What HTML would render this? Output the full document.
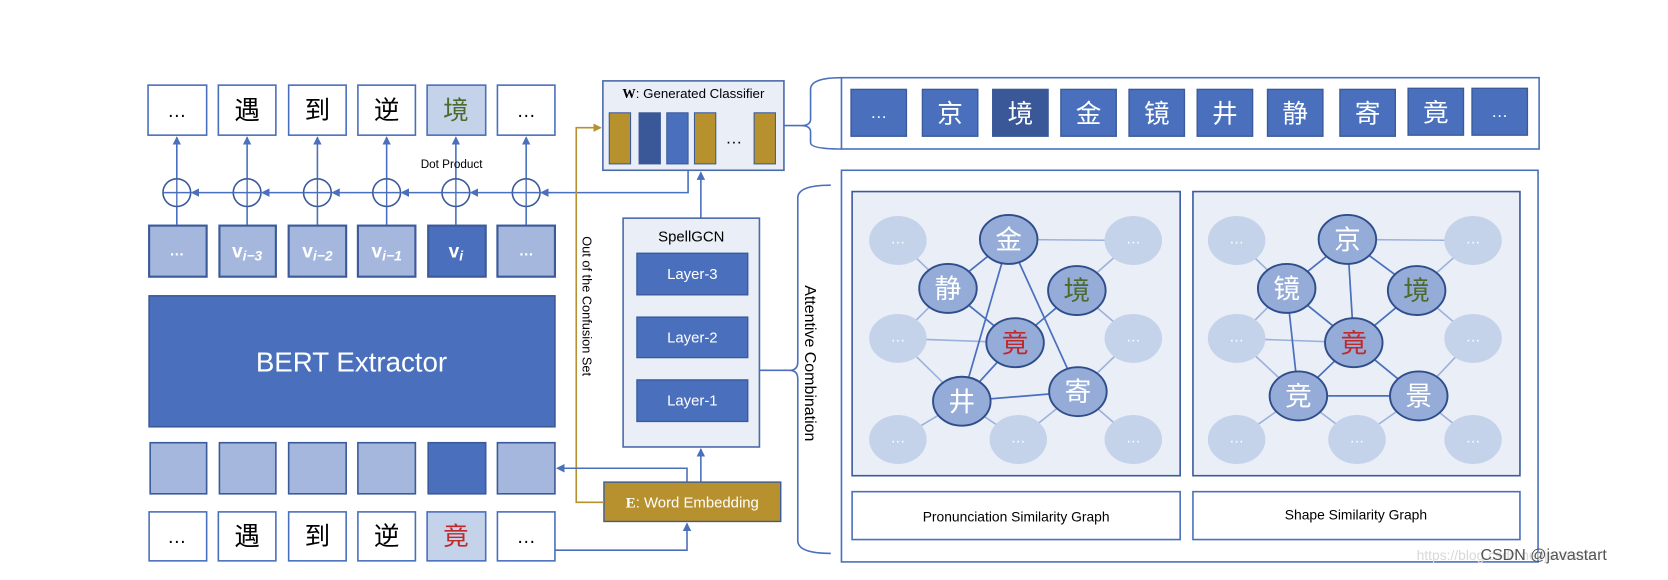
<!DOCTYPE html>
<html><head><meta charset="utf-8"><style>
html,body{margin:0;padding:0;background:#fff;}
svg{display:block;}
text{font-family:"Liberation Sans","Noto Sans CJK SC",sans-serif;}
.cj{font-family:"Liberation Sans","Noto Sans CJK SC",sans-serif;}
</style></head><body>
<svg width="1668" height="580" viewBox="0 0 1566 545" preserveAspectRatio="none" xmlns="http://www.w3.org/2000/svg">
<defs>
<marker id="a" markerWidth="8" markerHeight="8" refX="7" refY="4" orient="auto" markerUnits="userSpaceOnUse"><path d="M0,0 L8,4 L0,8 z" fill="#4a70bd"/></marker>
<marker id="g" markerWidth="8" markerHeight="8" refX="7" refY="4" orient="auto" markerUnits="userSpaceOnUse"><path d="M0,0 L8,4 L0,8 z" fill="#b8912f"/></marker>
</defs>
<rect width="1566" height="545" fill="#fff"/>

<g stroke="#4a70bd" stroke-width="1.5">
<rect x="139" y="80" width="55" height="47" fill="#fff"/>
<rect x="205" y="80" width="54" height="47" fill="#fff"/>
<rect x="271" y="80" width="54" height="47" fill="#fff"/>
<rect x="336" y="80" width="54" height="47" fill="#fff"/>
<rect x="401" y="80" width="55" height="47" fill="#c5d3ea"/>
<rect x="467" y="80" width="54" height="47" fill="#fff"/>
</g>
<g font-size="24" text-anchor="middle" class="cj">
<text x="166" y="110" font-size="18">…</text>
<text x="232" y="112">遇</text>
<text x="298" y="112">到</text>
<text x="363" y="112">逆</text>
<text x="428" y="112" fill="#4b6a2c">境</text>
<text x="494" y="110" font-size="18">…</text>
</g>

<g stroke="#4a70bd" stroke-width="1.5" fill="none">
<line x1="166" y1="211" x2="166" y2="129" marker-end="url(#a)"/>
<line x1="232" y1="211" x2="232" y2="129" marker-end="url(#a)"/>
<line x1="298" y1="211" x2="298" y2="129" marker-end="url(#a)"/>
<line x1="363" y1="211" x2="363" y2="129" marker-end="url(#a)"/>
<line x1="428" y1="211" x2="428" y2="129" marker-end="url(#a)"/>
<line x1="494" y1="211" x2="494" y2="129" marker-end="url(#a)"/>
<polyline points="646,160 646,181 520,181" />
<line x1="520" y1="181" x2="508" y2="181" marker-end="url(#a)"/>
<line x1="481" y1="181" x2="442" y2="181" marker-end="url(#a)"/>
<line x1="415" y1="181" x2="377" y2="181" marker-end="url(#a)"/>
<line x1="350" y1="181" x2="312" y2="181" marker-end="url(#a)"/>
<line x1="285" y1="181" x2="246" y2="181" marker-end="url(#a)"/>
<line x1="219" y1="181" x2="180" y2="181" marker-end="url(#a)"/>
</g>
<g stroke="#3a5a9a" stroke-width="1.5" fill="#fff">
<circle cx="166" cy="181" r="13"/><circle cx="232" cy="181" r="13"/><circle cx="298" cy="181" r="13"/>
<circle cx="363" cy="181" r="13"/><circle cx="428" cy="181" r="13"/><circle cx="494" cy="181" r="13"/>
</g>
<g stroke="#4a70bd" stroke-width="1.3">
<line x1="166" y1="168" x2="166" y2="194"/><line x1="153" y1="181" x2="179" y2="181"/>
<line x1="232" y1="168" x2="232" y2="194"/><line x1="219" y1="181" x2="245" y2="181"/>
<line x1="298" y1="168" x2="298" y2="194"/><line x1="285" y1="181" x2="311" y2="181"/>
<line x1="363" y1="168" x2="363" y2="194"/><line x1="350" y1="181" x2="376" y2="181"/>
<line x1="428" y1="168" x2="428" y2="194"/><line x1="415" y1="181" x2="441" y2="181"/>
<line x1="494" y1="168" x2="494" y2="194"/><line x1="481" y1="181" x2="507" y2="181"/>
</g>
<text x="424" y="158" font-size="11" text-anchor="middle">Dot Product</text>

<g stroke="#3a5a9a" stroke-width="2">
<rect x="140" y="212" width="54" height="48" fill="#a5b7dd"/>
<rect x="206" y="212" width="53" height="48" fill="#a5b7dd"/>
<rect x="271" y="212" width="54" height="48" fill="#a5b7dd"/>
<rect x="336" y="212" width="54" height="48" fill="#a5b7dd"/>
<rect x="402" y="212" width="54" height="48" fill="#4a70bd"/>
<rect x="467" y="212" width="54" height="48" fill="#a5b7dd"/>
</g>
<g fill="#fff" font-size="18" font-weight="bold" text-anchor="middle" font-family="Liberation Serif, serif">
<text x="166" y="240" font-size="14">…</text>
<text x="232" y="242" font-family="Liberation Serif, serif">v<tspan font-size="13" font-style="italic" dy="3">i−3</tspan></text>
<text x="298" y="242" font-family="Liberation Serif, serif">v<tspan font-size="13" font-style="italic" dy="3">i−2</tspan></text>
<text x="363" y="242" font-family="Liberation Serif, serif">v<tspan font-size="13" font-style="italic" dy="3">i−1</tspan></text>
<text x="428" y="242" font-family="Liberation Serif, serif">v<tspan font-size="13" font-style="italic" dy="3">i</tspan></text>
<text x="494" y="240" font-size="14">…</text>
</g>

<rect x="140" y="278" width="381" height="123" fill="#4a70bd" stroke="#3a5a9a" stroke-width="1.5"/>
<text x="330" y="349" fill="#fff" font-size="26" text-anchor="middle">BERT Extractor</text>

<g stroke="#3a5a9a" stroke-width="1.5">
<rect x="141" y="416" width="53" height="48" fill="#a5b7dd"/>
<rect x="206" y="416" width="53" height="48" fill="#a5b7dd"/>
<rect x="271" y="416" width="54" height="48" fill="#a5b7dd"/>
<rect x="336" y="416" width="54" height="48" fill="#a5b7dd"/>
<rect x="402" y="416" width="54" height="48" fill="#4a70bd"/>
<rect x="467" y="416" width="54" height="48" fill="#a5b7dd"/>
</g>

<g stroke="#4a70bd" stroke-width="1.5">
<rect x="140" y="481" width="54" height="46" fill="#fff"/>
<rect x="205" y="481" width="54" height="46" fill="#fff"/>
<rect x="271" y="481" width="54" height="46" fill="#fff"/>
<rect x="336" y="481" width="54" height="46" fill="#fff"/>
<rect x="401" y="481" width="55" height="46" fill="#c5d3ea"/>
<rect x="467" y="481" width="54" height="46" fill="#fff"/>
</g>
<g font-size="24" text-anchor="middle" class="cj">
<text x="166" y="510" font-size="18">…</text>
<text x="232" y="512">遇</text>
<text x="298" y="512">到</text>
<text x="363" y="512">逆</text>
<text x="428" y="512" fill="#c0282a">竟</text>
<text x="494" y="510" font-size="18">…</text>
</g>

<rect x="566" y="76" width="170" height="84" fill="#e9eef7" stroke="#4a6aa8" stroke-width="1.5"/>
<text x="651" y="92" font-size="12.5" text-anchor="middle"><tspan font-weight="bold" font-family="Liberation Serif, serif">W</tspan>: Generated Classifier</text>
<rect x="572" y="106" width="20" height="48" fill="#b8912f" stroke="#3a5a9a"/>
<rect x="600" y="106" width="20" height="48" fill="#3a5898" stroke="#3a5a9a"/>
<rect x="626" y="106" width="20" height="48" fill="#4a70bd" stroke="#3a5a9a"/>
<rect x="652" y="106" width="20" height="48" fill="#b8912f" stroke="#3a5a9a"/>
<text x="689" y="135" font-size="16" text-anchor="middle">…</text>
<rect x="708" y="106" width="20" height="48" fill="#b8912f" stroke="#3a5a9a"/>

<rect x="585" y="205" width="128" height="215" fill="#e9eef7" stroke="#4a6aa8" stroke-width="1.5"/>
<text x="649" y="227" font-size="14" text-anchor="middle">SpellGCN</text>
<g fill="#4a70bd" stroke="#3a5a9a" stroke-width="1.3">
<rect x="598" y="238" width="104" height="39"/>
<rect x="598" y="298" width="104" height="38"/>
<rect x="598" y="357" width="104" height="39"/>
</g>
<g fill="#fff" font-size="14" text-anchor="middle">
<text x="650" y="262">Layer-3</text><text x="650" y="322">Layer-2</text><text x="650" y="381">Layer-1</text>
</g>
<line x1="658" y1="205" x2="658" y2="162" stroke="#4a70bd" stroke-width="1.5" marker-end="url(#a)"/>

<rect x="567" y="453" width="166" height="37" fill="#b8912f" stroke="#3a5a9a" stroke-width="1.3"/>
<text x="650" y="477" fill="#fff" font-size="14" text-anchor="middle"><tspan font-weight="bold" font-family="Liberation Serif, serif">E</tspan>: Word Embedding</text>
<polyline points="567,472 541,472 541,120 564,120" fill="none" stroke="#b8912f" stroke-width="1.5" marker-end="url(#g)"/>
<text transform="translate(547,222) rotate(90)" font-size="12">Out of the Confusion Set</text>
<g stroke="#4a70bd" stroke-width="1.5" fill="none">
<polyline points="645,453 645,440 523,440" marker-end="url(#a)"/>
<line x1="658" y1="453" x2="658" y2="422" marker-end="url(#a)"/>
<polyline points="521,517 645,517 645,492" marker-end="url(#a)"/>
<line x1="713" y1="348" x2="742" y2="348"/>
<path d="M780,174 Q749,174 749,186 L749,340 Q749,348 741,348 Q749,348 749,356 L749,508 Q749,520 780,520"/>
<line x1="736" y1="118" x2="752" y2="118"/>
<path d="M790,73 Q761,73 761,84 L761,112 Q761,118 752,118 Q761,118 761,124 L761,134 Q761,140 790,140"/>
</g>
<text transform="translate(756,268) rotate(90)" font-size="15">Attentive Combination</text>

<rect x="790" y="73" width="655" height="67" fill="#fff" stroke="#4a70bd" stroke-width="1.5"/>
<g stroke="#3a5a9a" stroke-width="1.3" fill="#4a70bd">
<rect x="799" y="84" width="52" height="44"/>
<rect x="866" y="84" width="52" height="44"/>
<rect x="932" y="84" width="52" height="44" fill="#3a5898"/>
<rect x="996" y="84" width="52" height="44"/>
<rect x="1060" y="84" width="52" height="44"/>
<rect x="1124" y="84" width="52" height="44"/>
<rect x="1190" y="84" width="52" height="44"/>
<rect x="1258" y="84" width="52" height="44"/>
<rect x="1322" y="83" width="52" height="44"/>
<rect x="1382" y="83" width="52" height="44"/>
</g>
<g fill="#fff" font-size="24" text-anchor="middle" class="cj">
<text x="825" y="111" font-size="16">…</text>
<text x="892" y="115">京</text><text x="958" y="115">境</text><text x="1022" y="115">金</text>
<text x="1086" y="115">镜</text><text x="1150" y="115">井</text><text x="1216" y="115">静</text>
<text x="1284" y="115">寄</text><text x="1348" y="114">竟</text>
<text x="1408" y="110" font-size="16">…</text>
</g>

<rect x="790" y="160" width="654" height="368" fill="#fff" stroke="#4a70bd" stroke-width="1.5"/>
<rect x="800" y="180" width="308" height="267" fill="#e9eef7" stroke="#3a5a9a" stroke-width="1.5"/>
<rect x="1120" y="180" width="307" height="267" fill="#e9eef7" stroke="#3a5a9a" stroke-width="1.5"/>
<rect x="800" y="462" width="308" height="45" fill="#fff" stroke="#4a70bd" stroke-width="1.5"/>
<rect x="1120" y="462" width="307" height="45" fill="#fff" stroke="#4a70bd" stroke-width="1.5"/>
<text x="954" y="490" font-size="13" text-anchor="middle">Pronunciation Similarity Graph</text>
<text x="1273" y="488" font-size="13" text-anchor="middle">Shape Similarity  Graph</text>

<g stroke="#9db0dc" stroke-width="1.5">
<line x1="947" y1="225" x2="1064" y2="226"/><line x1="890" y1="271" x2="843" y2="226"/>
<line x1="890" y1="271" x2="843" y2="318"/><line x1="1011" y1="273" x2="1064" y2="226"/>
<line x1="1011" y1="273" x2="1064" y2="318"/><line x1="843" y1="318" x2="953" y2="322"/>
<line x1="843" y1="318" x2="903" y2="377"/><line x1="903" y1="377" x2="843" y2="413"/>
<line x1="903" y1="377" x2="956" y2="413"/><line x1="1012" y1="368" x2="956" y2="413"/>
<line x1="1012" y1="368" x2="1064" y2="318"/><line x1="1012" y1="368" x2="1064" y2="413"/>
</g>
<g stroke="#4a70bd" stroke-width="1.6">
<line x1="947" y1="225" x2="890" y2="271"/><line x1="947" y1="225" x2="903" y2="377"/>
<line x1="947" y1="225" x2="1012" y2="368"/><line x1="890" y1="271" x2="953" y2="322"/>
<line x1="1011" y1="273" x2="953" y2="322"/><line x1="953" y1="322" x2="903" y2="377"/>
<line x1="903" y1="377" x2="1012" y2="368"/>
</g>
<g fill="#c5d3ea">
<ellipse cx="843" cy="226" rx="27" ry="23"/><ellipse cx="1064" cy="226" rx="27" ry="23"/>
<ellipse cx="843" cy="318" rx="27" ry="23"/><ellipse cx="1064" cy="318" rx="27" ry="23"/>
<ellipse cx="843" cy="413" rx="27" ry="23"/><ellipse cx="956" cy="413" rx="27" ry="23"/>
<ellipse cx="1064" cy="413" rx="27" ry="23"/>
</g>
<g fill="#fff" font-size="14" text-anchor="middle">
<text x="843" y="229">…</text><text x="1064" y="229">…</text><text x="843" y="321">…</text>
<text x="1064" y="321">…</text><text x="843" y="416">…</text><text x="956" y="416">…</text><text x="1064" y="416">…</text>
</g>
<g fill="#95acd8" stroke="#2f4d8a" stroke-width="1.8">
<ellipse cx="947" cy="225" rx="27" ry="23"/><ellipse cx="890" cy="271" rx="27" ry="23"/>
<ellipse cx="1011" cy="273" rx="27" ry="23"/><ellipse cx="953" cy="322" rx="27" ry="23"/>
<ellipse cx="903" cy="377" rx="27" ry="23"/><ellipse cx="1012" cy="368" rx="27" ry="23"/>
</g>
<g fill="#fff" font-size="25" text-anchor="middle" class="cj">
<text x="947" y="234">金</text><text x="890" y="280">静</text>
<text x="1011" y="282" fill="#4b6a2c">境</text><text x="953" y="331" fill="#c0282a">竟</text>
<text x="903" y="386">井</text><text x="1012" y="377">寄</text>
</g>

<g stroke="#9db0dc" stroke-width="1.5">
<line x1="1265" y1="225" x2="1383" y2="226"/><line x1="1208" y1="271" x2="1161" y2="226"/>
<line x1="1208" y1="271" x2="1161" y2="318"/><line x1="1161" y1="318" x2="1271" y2="322"/>
<line x1="1161" y1="318" x2="1219" y2="372"/><line x1="1219" y1="372" x2="1161" y2="413"/>
<line x1="1219" y1="372" x2="1274" y2="413"/><line x1="1332" y1="372" x2="1274" y2="413"/>
<line x1="1332" y1="372" x2="1383" y2="318"/><line x1="1332" y1="372" x2="1383" y2="413"/>
<line x1="1330" y1="273" x2="1383" y2="226"/><line x1="1330" y1="273" x2="1383" y2="318"/>
</g>
<g stroke="#4a70bd" stroke-width="1.6">
<line x1="1265" y1="225" x2="1208" y2="271"/><line x1="1265" y1="225" x2="1330" y2="273"/>
<line x1="1265" y1="225" x2="1271" y2="322"/><line x1="1208" y1="271" x2="1271" y2="322"/>
<line x1="1208" y1="271" x2="1219" y2="372"/><line x1="1330" y1="273" x2="1271" y2="322"/>
<line x1="1271" y1="322" x2="1219" y2="372"/><line x1="1271" y1="322" x2="1332" y2="372"/>
<line x1="1219" y1="372" x2="1332" y2="372"/>
</g>
<g fill="#c5d3ea">
<ellipse cx="1161" cy="226" rx="27" ry="23"/><ellipse cx="1383" cy="226" rx="27" ry="23"/>
<ellipse cx="1161" cy="318" rx="27" ry="23"/><ellipse cx="1383" cy="318" rx="27" ry="23"/>
<ellipse cx="1161" cy="413" rx="27" ry="23"/><ellipse cx="1274" cy="413" rx="27" ry="23"/>
<ellipse cx="1383" cy="413" rx="27" ry="23"/>
</g>
<g fill="#fff" font-size="14" text-anchor="middle">
<text x="1161" y="229">…</text><text x="1383" y="229">…</text><text x="1161" y="321">…</text>
<text x="1383" y="321">…</text><text x="1161" y="416">…</text><text x="1274" y="416">…</text><text x="1383" y="416">…</text>
</g>
<g fill="#95acd8" stroke="#2f4d8a" stroke-width="1.8">
<ellipse cx="1265" cy="225" rx="27" ry="23"/><ellipse cx="1208" cy="271" rx="27" ry="23"/>
<ellipse cx="1330" cy="273" rx="27" ry="23"/><ellipse cx="1271" cy="322" rx="27" ry="23"/>
<ellipse cx="1219" cy="372" rx="27" ry="23"/><ellipse cx="1332" cy="372" rx="27" ry="23"/>
</g>
<g fill="#fff" font-size="25" text-anchor="middle" class="cj">
<text x="1265" y="234">京</text><text x="1208" y="280">镜</text>
<text x="1330" y="282" fill="#4b6a2c">境</text><text x="1271" y="331" fill="#c0282a">竟</text>
<text x="1219" y="381">竞</text><text x="1332" y="381">景</text>
</g>

<text x="1330" y="526" font-size="13" fill="#d8d8d8">https://blog.csdn.net/javastart</text>
<text x="1390" y="526" font-size="15" fill="#555">CSDN @javastart</text>
</svg>
</body></html>
